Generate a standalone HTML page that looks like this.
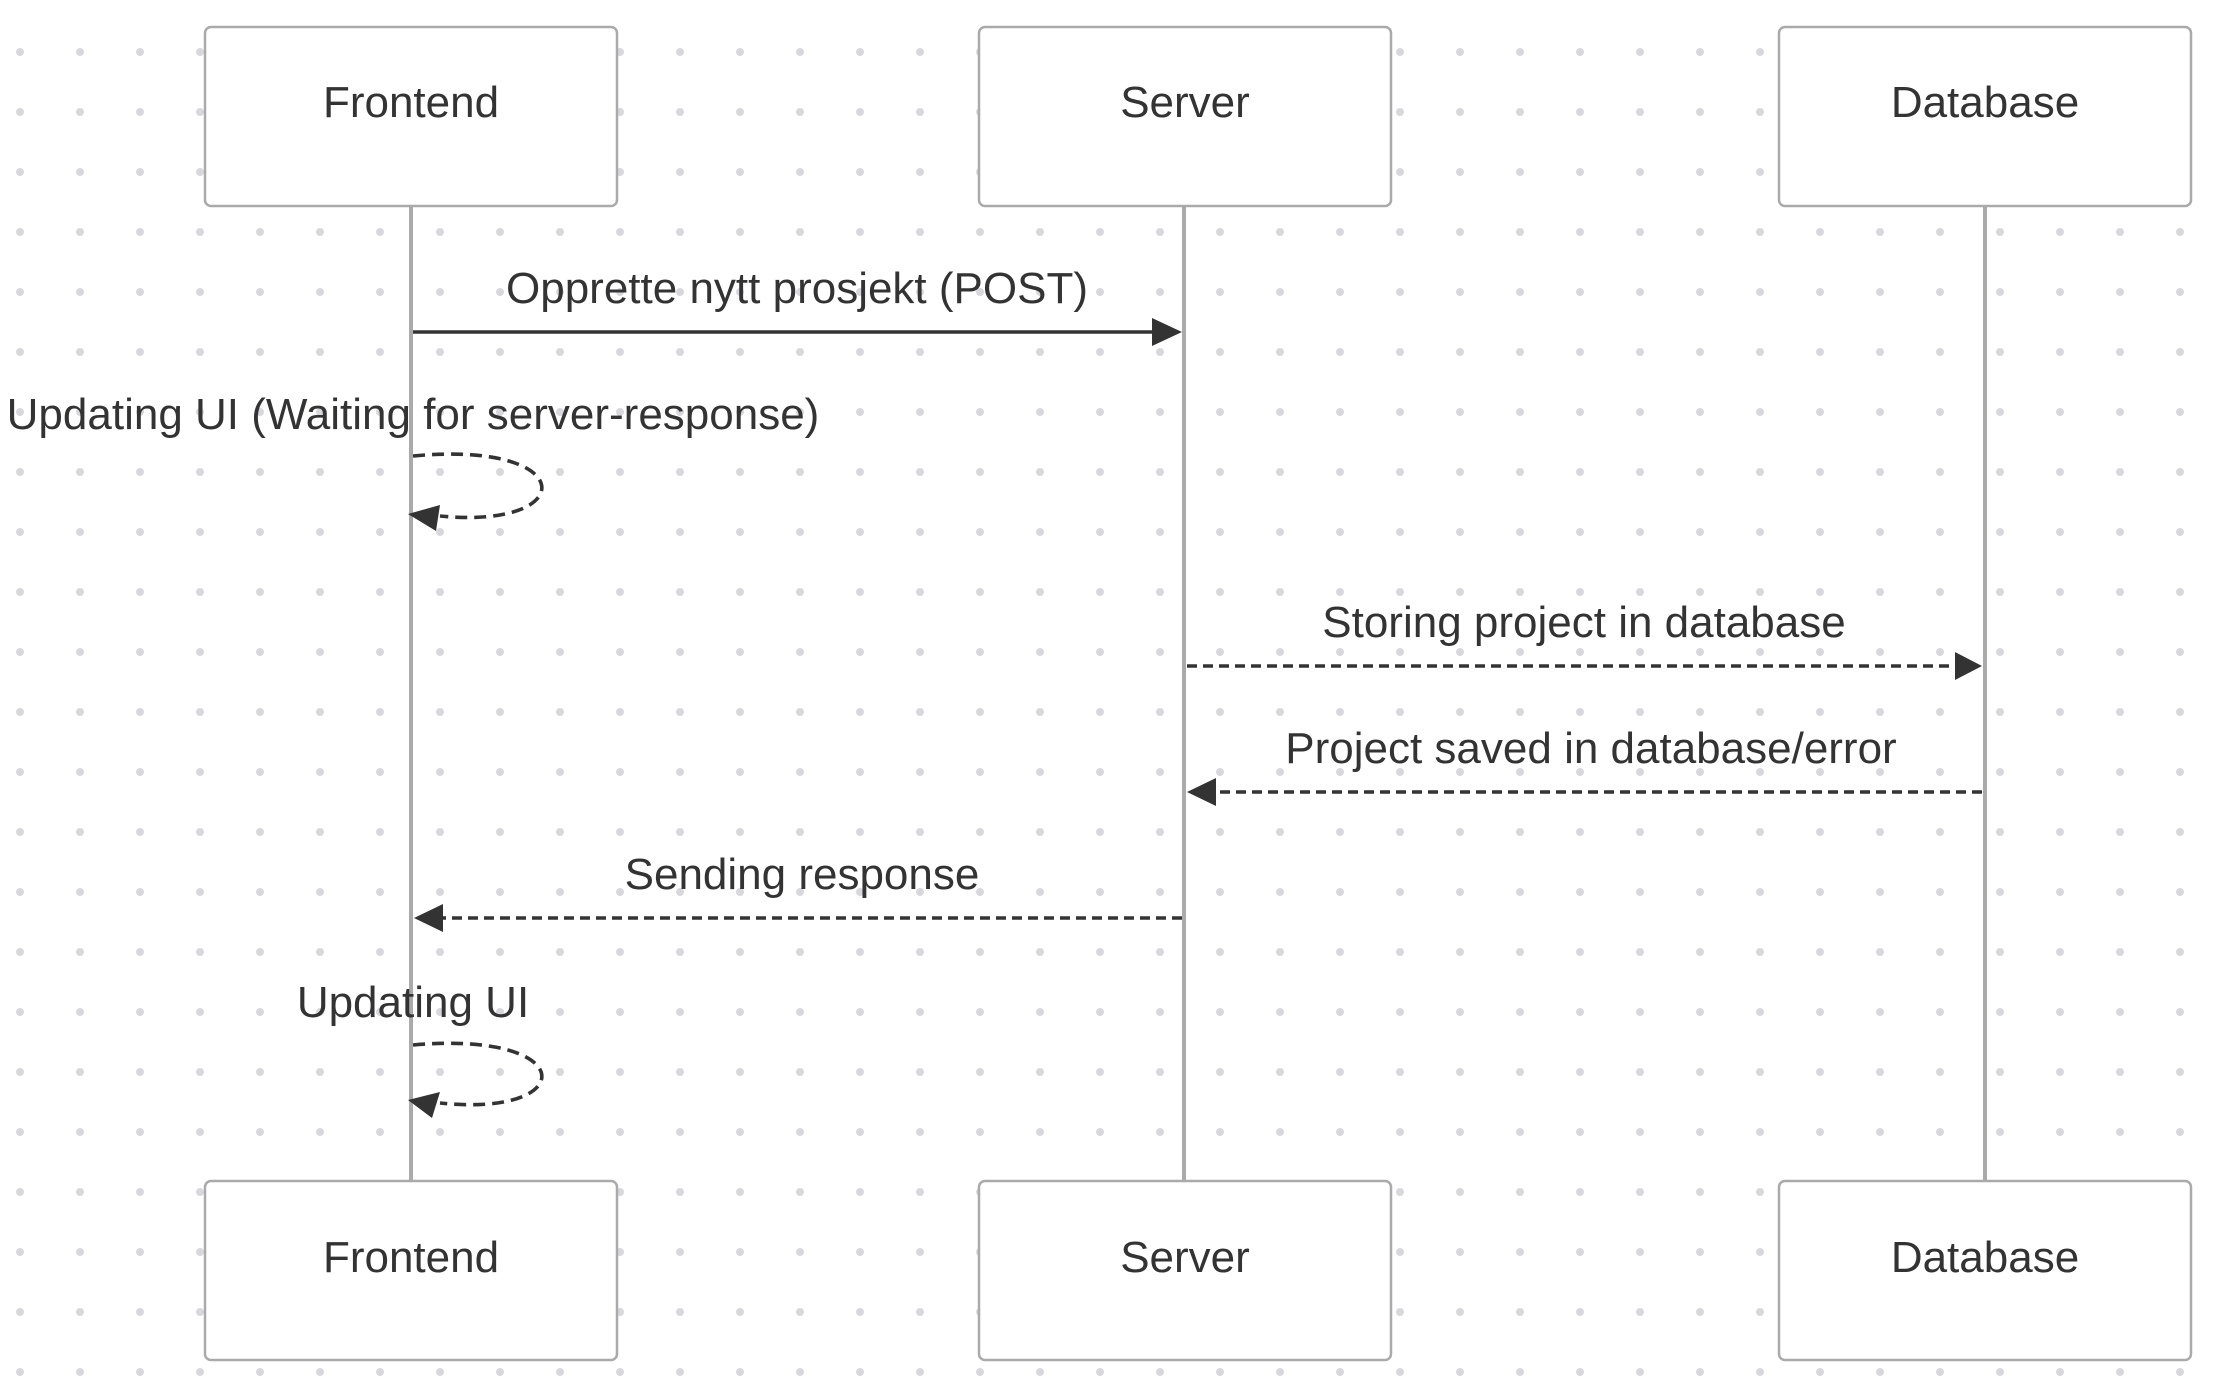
<!DOCTYPE html>
<html><head><meta charset="utf-8"><style>
html,body{margin:0;padding:0;background:#fff;}
svg{display:block;}
text{font-family:"Liberation Sans",Arial,sans-serif;font-size:44px;fill:#333;}
</style></head><body>
<svg width="2220" height="1382" viewBox="0 0 2220 1382" xmlns="http://www.w3.org/2000/svg">
<defs>
<pattern id="dots" x="0" y="0" width="60" height="60" patternUnits="userSpaceOnUse">
<circle cx="20" cy="52" r="4" fill="#d8d8dc"/>
</pattern>
</defs>
<rect width="2220" height="1382" fill="url(#dots)"/>
<g stroke="#aaa" stroke-width="4">
<line x1="411" y1="206" x2="411" y2="1181"/>
<line x1="1184" y1="206" x2="1184" y2="1181"/>
<line x1="1985" y1="206" x2="1985" y2="1181"/>
</g>
<g fill="#fff" stroke="#aaa" stroke-width="2.5">
<rect x="205" y="27" width="412" height="179" rx="6"/>
<rect x="979" y="27" width="412" height="179" rx="6"/>
<rect x="1779" y="27" width="412" height="179" rx="6"/>
<rect x="205" y="1181" width="412" height="179" rx="6"/>
<rect x="979" y="1181" width="412" height="179" rx="6"/>
<rect x="1779" y="1181" width="412" height="179" rx="6"/>
</g>
<g text-anchor="middle">
<text x="411" y="117">Frontend</text>
<text x="1185" y="117">Server</text>
<text x="1985" y="117">Database</text>
<text x="411" y="1272">Frontend</text>
<text x="1185" y="1272">Server</text>
<text x="1985" y="1272">Database</text>
<text x="797" y="303">Opprette nytt prosjekt (POST)</text>
<text x="413" y="429">Updating UI (Waiting for server-response)</text>
<text x="1584" y="637">Storing project in database</text>
<text x="1591" y="763">Project saved in database/error</text>
<text x="802" y="889">Sending response</text>
<text x="413" y="1017">Updating UI</text>
</g>
<g stroke="#333" stroke-width="3.6" fill="none">
<line x1="413" y1="332" x2="1152" y2="332"/>
<path d="M1152,318 L1182,332 L1152,346 z" fill="#333" stroke="none"/>
<path d="M413,456 C580,440 580,530 440,516" stroke-dasharray="12,7"/>
<path d="M440,505 L408,514 L436,531 z" fill="#333" stroke="none"/>
<line x1="1187" y1="666" x2="1955" y2="666" stroke-dasharray="10,6"/>
<path d="M1955,652 L1982,666 L1955,680 z" fill="#333" stroke="none"/>
<line x1="1982" y1="792" x2="1216" y2="792" stroke-dasharray="10,6"/>
<path d="M1216,778 L1187,792 L1216,806 z" fill="#333" stroke="none"/>
<line x1="1182" y1="918" x2="443" y2="918" stroke-dasharray="10,6"/>
<path d="M443,904 L414,918 L443,932 z" fill="#333" stroke="none"/>
<path d="M413,1045 C580,1030 580,1118 440,1103" stroke-dasharray="12,7"/>
<path d="M440,1092 L408,1100 L432,1118 z" fill="#333" stroke="none"/>
</g>
</svg>
</body></html>
